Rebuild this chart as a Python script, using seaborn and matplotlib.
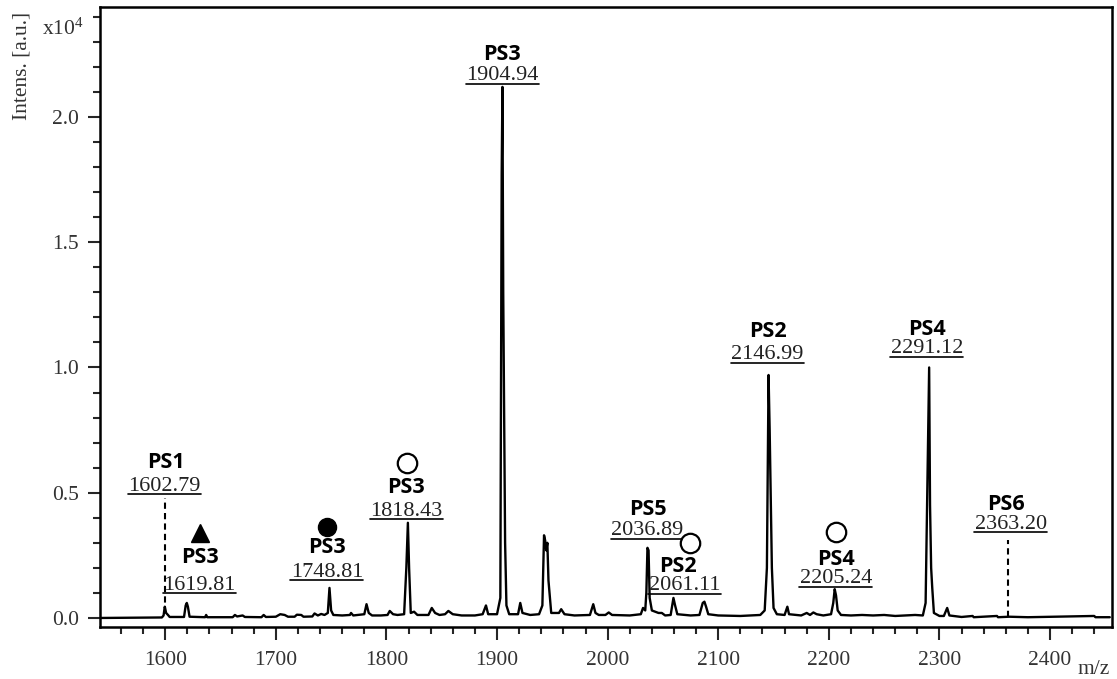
import matplotlib
matplotlib.use("Agg")
import matplotlib.pyplot as plt
from matplotlib.ticker import MultipleLocator, FormatStrFormatter
import seaborn as sns
import pandas as pd

# spectrum trace: m/z and intensity (x10^4 a.u.)
mz = [1541, 1597, 1598.5, 1599.6, 1600.8, 1602.5, 1604,
      1617, 1618.5, 1619.5, 1620.5, 1622,
      1636, 1637, 1638, 1661, 1663, 1665, 1670, 1672, 1687, 1689, 1691,
      1700, 1704, 1708, 1711, 1717, 1719, 1723, 1725, 1733, 1735, 1738, 1741, 1744,
      1747, 1748.5, 1750, 1752, 1760, 1767, 1768, 1770,
      1780, 1782, 1784, 1787, 1795, 1801, 1803, 1806, 1810,
      1816, 1818, 1819.4, 1820.5, 1822, 1825, 1828,
      1838, 1841, 1844, 1848, 1853, 1856, 1860, 1868, 1880,
      1887, 1890, 1892, 1900, 1903, 1904.2, 1904.9, 1905.6, 1906.3, 1907.3, 1908.5, 1911,
      1919, 1921, 1923, 1930, 1938,
      1941, 1942.5, 1943.5, 1944.5, 1945.5, 1946.5, 1947.5, 1949,
      1956, 1958, 1961, 1970, 1984, 1987, 1989, 1992, 1998, 2001, 2004, 2020,
      2030, 2032, 2034, 2035, 2036, 2037, 2038, 2040, 2043, 2046, 2049, 2052,
      2057, 2059.5, 2061, 2063, 2075, 2083, 2086, 2087.5, 2089, 2091,
      2100, 2120, 2130, 2138,
      2142, 2144, 2145.5, 2146.5, 2147.5, 2148.5, 2150, 2153,
      2160, 2162.5, 2164, 2175, 2180, 2183, 2186, 2189, 2195,
      2202, 2204, 2205.3, 2206.5, 2208, 2211,
      2220, 2230, 2240, 2250, 2260, 2270, 2278, 2285,
      2287.5, 2289.5, 2290.7, 2291.5, 2292.5, 2293.5, 2295, 2300,
      2304, 2307, 2309, 2320, 2330, 2331, 2352, 2353, 2363, 2380, 2440, 2441, 2454]
intensity = [0.0, 0.002, 0.01, 0.045, 0.02, 0.012, 0.004,
             0.004, 0.05, 0.06, 0.045, 0.005,
             0.003, 0.012, 0.003, 0.003, 0.012, 0.006, 0.01, 0.004, 0.003, 0.012, 0.004,
             0.005, 0.015, 0.012, 0.005, 0.005, 0.013, 0.012, 0.005, 0.006, 0.018, 0.01, 0.016, 0.012,
             0.02, 0.12, 0.03, 0.012, 0.01, 0.012, 0.02, 0.01,
             0.015, 0.055, 0.02, 0.01, 0.01, 0.012, 0.028, 0.015, 0.012,
             0.015, 0.2, 0.38, 0.2, 0.02, 0.025, 0.012,
             0.012, 0.04, 0.02, 0.012, 0.015, 0.028, 0.015, 0.01, 0.01,
             0.015, 0.05, 0.015, 0.015, 0.08, 1.77, 2.12, 1.3, 0.9, 0.3, 0.05, 0.015,
             0.015, 0.06, 0.02, 0.012, 0.015,
             0.05, 0.33, 0.31, 0.27, 0.3, 0.15, 0.1, 0.02,
             0.02, 0.035, 0.015, 0.01, 0.012, 0.055, 0.02, 0.012, 0.012, 0.022, 0.012, 0.01,
             0.015, 0.04, 0.03, 0.1, 0.28, 0.27, 0.08, 0.03, 0.025, 0.02, 0.02, 0.01,
             0.012, 0.08, 0.05, 0.015, 0.01, 0.012, 0.06, 0.065, 0.045, 0.015,
             0.01, 0.008, 0.01, 0.012,
             0.03, 0.2, 0.97, 0.75, 0.47, 0.2, 0.04, 0.015,
             0.012, 0.045, 0.015, 0.01, 0.02, 0.012, 0.022, 0.015, 0.01,
             0.015, 0.06, 0.115, 0.09, 0.03, 0.012,
             0.01, 0.012, 0.01, 0.012, 0.008, 0.01, 0.012, 0.01,
             0.06, 0.64, 1.0, 0.45, 0.2, 0.12, 0.02, 0.008,
             0.008, 0.04, 0.01, 0.004, 0.008, 0.003, 0.008, 0.003, 0.005, 0.003, 0.008, 0.003, 0.003]

# peak annotations
peak_names = ['PS1', 'PS3', 'PS3', 'PS3', 'PS3', 'PS5', 'PS2', 'PS2', 'PS4', 'PS4', 'PS6']
peak_values = ['1602.79', '1619.81', '1748.81', '1818.43', '1904.94', '2036.89',
               '2061.11', '2146.99', '2205.24', '2291.12', '2363.20']

# layout: name x, name baseline, value x, value baseline, underline y
label_layout = [
    (1600.5, 0.599, 1599.4, 0.507, 0.495),
    (1631.1, 0.220, 1631.1, 0.112, 0.100),
    (1746.1, 0.259, 1746.1, 0.164, 0.152),
    (1817.7, 0.499, 1817.7, 0.407, 0.395),
    (1904.6, 2.228, 1904.6, 2.146, 2.132),
    (2036.0, 0.411, 2036.0, 0.331, 0.315),
    (2063.2, 0.184, 2069.5, 0.110, 0.096),
    (2144.7, 1.122, 2144.7, 1.034, 1.018),
    (2206.2, 0.212, 2206.2, 0.138, 0.124),
    (2288.7, 1.130, 2288.7, 1.056, 1.042),
    (2360.2, 0.431, 2364.7, 0.357, 0.343),
]
# symbols: x, y, marker, filled
symbols = [(1631.5, 0.339, '^', True), (1746.5, 0.363, 'o', True),
           (1818.6, 0.619, 'o', False), (2074.9, 0.299, 'o', False),
           (2206.2, 0.343, 'o', False)]
# dashed guide lines: x, y bottom, y top
guides = [(1600, 0.02, 0.479), (2362.1, 0.004, 0.311)]

sns.set_style("ticks")
plt.rcParams['font.family'] = ['Liberation Serif', 'DejaVu Serif']

fig = plt.figure(figsize=(11.17, 6.79), dpi=100)
ax = fig.add_axes([0.0895, 0.0766, 0.906, 0.9131])

df = pd.DataFrame({'mz': mz, 'intensity': intensity})
sns.lineplot(data=df, x='mz', y='intensity', ax=ax, color='black', lw=1.7,
             estimator=None, sort=False)

for x, y0, y1 in guides:
    ax.plot([x, x], [y0, y1], color='black', lw=1.5, ls=(0, (3, 2)))

for i, name in enumerate(peak_names):
    nx, ny, vx, vy, uy = label_layout[i]
    ax.text(nx, ny, name, ha='center', va='baseline', fontsize=15.5,
            fontweight='bold', color='black', family=['Open Sans', 'DejaVu Sans'])
    ax.text(vx, vy, peak_values[i], ha='center', va='baseline', fontsize=16, color='#222222')
    ax.plot([vx - 33, vx + 33], [uy, uy], color='black', lw=1.2)

for x, y, m, filled in symbols:
    if filled:
        ax.plot(x, y, marker=m, ms=13, color='black', ls='none')
    else:
        ax.plot(x, y, marker=m, ms=14, mfc='white', mec='black', mew=1.6, ls='none')

ax.set_xlim(1541, 2456)
ax.set_ylim(-0.036, 2.439)
ax.xaxis.set_major_locator(MultipleLocator(100))
ax.xaxis.set_minor_locator(MultipleLocator(20))
ax.yaxis.set_major_locator(MultipleLocator(0.5))
ax.yaxis.set_minor_locator(MultipleLocator(0.1))
ax.yaxis.set_major_formatter(FormatStrFormatter('%.1f'))
ax.tick_params(which='major', direction='out', length=9, width=1.5,
               labelsize=15.5, labelcolor='#333333', pad=6)
ax.tick_params(axis='x', which='major', pad=8)
ax.tick_params(which='minor', direction='out', length=5, width=1.5)
ax.set_xlabel('')
ax.set_ylabel('')
for s in ax.spines.values():
    s.set_linewidth(1.8)
    s.set_color('black')

fig.text(22 / 1117, 1 - 66 / 679, 'Intens. [a.u.]', rotation=90, ha='center', va='center',
         fontsize=15.5, color='#333333')
fig.text(42 / 1117, 1 - 35 / 679, r'$\mathregular{x10^4}$', ha='left', va='baseline',
         fontsize=15.5, color='#333333')
fig.text(1110 / 1117, 1 - 674 / 679, 'm/z', ha='right', va='baseline',
         fontsize=15.5, color='#333333')

fig.savefig('out.png', dpi=100)
plt.close(fig)
